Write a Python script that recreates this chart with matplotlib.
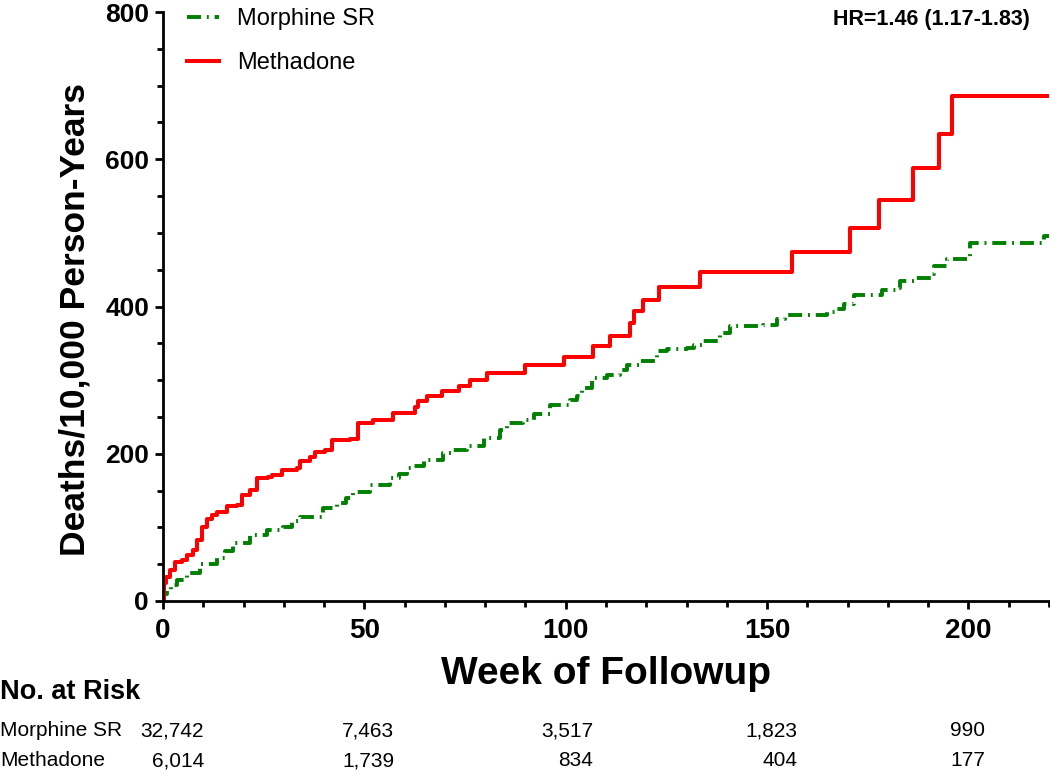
import matplotlib
matplotlib.use('Agg')
import matplotlib.pyplot as plt
from matplotlib.ticker import MultipleLocator
import matplotlib.transforms as mtransforms

plt.rcParams['font.family'] = ['Liberation Sans', 'DejaVu Sans']

# ---------------- data ----------------
methadone_weeks = [0, 0.3, 0.75, 1.7, 3.0, 4.6, 5.9, 7.5, 8.4, 9.6, 10.9, 12.1, 13.3,
                   15.8, 18.3, 19.6, 21.6, 23.3, 26.1, 27.0, 29.5, 33.2, 34.0, 36.5,
                   37.8, 40.2, 41.9, 46.5, 48.5, 52.2, 57.1, 62.6, 63.4, 65.5, 69.2,
                   73.4, 76.3, 80.4, 89.9, 99.5, 106.8, 111.1, 116.0, 116.9, 119.3,
                   123.1, 133.4, 156.2, 170.7, 177.7, 186.2, 192.6, 195.9, 220]
methadone_rate = [0, 25, 33, 42, 53, 56, 63, 69, 83, 101, 112, 117, 121.5,
                  129, 130, 144, 151, 167, 169, 171, 178, 181, 189.5, 195,
                  203, 204.5, 219, 220, 242, 246, 256, 264, 271, 278, 285,
                  292.5, 300.7, 309.8, 321, 331.5, 346, 360.5, 377, 393.6, 409.5,
                  426.8, 446.7, 474, 507, 545, 588, 634, 686, 686]

morphine_weeks = [0, 0.3, 0.9, 2.0, 3.4, 5.9, 9.2, 13.3, 15.5, 17.5, 21.6, 25.8, 29.9,
                  32.0, 34.0, 39.8, 43.2, 45.5, 47.3, 51.4, 56.4, 58.5, 60.5, 62.2,
                  64.7, 69.6, 72.0, 75.5, 79.6, 83.7, 85.4, 89.5, 92.0, 96.1, 101.1,
                  102.8, 104.0, 106.5, 110.2, 113.5, 115.2, 118.5, 122.7, 125.1,
                  130.1, 131.8, 134.2, 138.4, 140.9, 149.1, 152.5, 154.5, 164.9,
                  167.4, 169.1, 171.5, 178.5, 182.3, 183.1, 186.4, 190.6, 191.4,
                  194.7, 200.5, 218.7, 220]
morphine_rate = [0, 10, 15, 22, 28.6, 38.5, 50, 58, 68, 78.5, 90, 96.6, 101,
                 108, 114.7, 126, 133, 140, 148.7, 157.8, 167, 172, 180.5, 182.7,
                 191.8, 201, 205, 210, 221, 232.6, 241.8, 246, 254, 266.7, 273.5,
                 278, 289, 303, 307.5, 314, 321, 325.6, 339, 342.4,
                 343.8, 348.3, 352.8, 364, 373, 375.5, 383, 389, 392,
                 396, 403, 416, 423, 425.4, 434.4, 439, 443.5, 454.8,
                 465, 486, 496, 496]

series_labels = ['Morphine SR', 'Methadone']
x_ticks = [0, 50, 100, 150, 200]
y_ticks = [0, 200, 400, 600, 800]

risk_rows = ['Morphine SR', 'Methadone']
risk_morphine = ['32,742', '7,463', '3,517', '1,823', '990']
risk_methadone = ['6,014', '1,739', '834', '404', '177']
risk_col_x = [10.2, 57.4, 106.8, 157.5, 204.2]   # right edges of columns (week units)

hr_text = 'HR=1.46 (1.17-1.83)'

# ---------------- figure ----------------
W, H = 1050, 774
fig = plt.figure(figsize=(W / 100, H / 100), dpi=100)
ax = fig.add_axes([163 / W, 1 - 601 / H, (1049 - 163) / W, (601 - 12) / H])

green = '#008000'
red = '#ff0000'

l1, = ax.plot(morphine_weeks, morphine_rate, drawstyle='steps-post', color=green,
              lw=2.8, linestyle=(0, (3.6, 1.5, 0.5, 1.5)), label=series_labels[0])
l2, = ax.plot(methadone_weeks, methadone_rate, drawstyle='steps-post', color=red,
              lw=2.9, label=series_labels[1])

ax.set_xlim(0, 220)
ax.set_ylim(0, 800)

for s in ['top', 'right']:
    ax.spines[s].set_visible(False)
for s in ['left', 'bottom']:
    ax.spines[s].set_linewidth(2.0)

ax.set_xticks(x_ticks)
ax.set_xticklabels([str(v) for v in x_ticks], fontsize=20, fontweight='bold')
ax.set_yticks(y_ticks)
ax.set_yticklabels([str(v) for v in y_ticks], fontsize=19, fontweight='bold')
ax.xaxis.set_minor_locator(MultipleLocator(10))
ax.yaxis.set_minor_locator(MultipleLocator(50))
ax.tick_params(which='major', direction='out', length=6, width=2, color='black')
ax.tick_params(which='minor', direction='out', length=4, width=2, color='black')
ax.tick_params(axis='x', which='major', pad=6)
ax.tick_params(axis='y', which='major', pad=4)

# axis labels
fig.text(606 / W, 1 - 674 / H, 'Week of Followup', fontsize=28, fontweight='bold',
         ha='center', va='center')
fig.text(75 / W, 1 - 320 / H, 'Deaths/10,000 Person-Years', fontsize=25.5,
         fontweight='bold', rotation=90, ha='center', va='center')

# legend
ax.legend(handles=[l1, l2], loc='upper left', bbox_to_anchor=(187 / W, 1 - 8 / H),
          bbox_transform=fig.transFigure, frameon=False, fontsize=17,
          handlelength=1.36, handletextpad=0.75, labelspacing=0.95,
          borderpad=0, borderaxespad=0)

# HR annotation
fig.text(1030 / W, 1 - 20 / H, hr_text, fontsize=15.5, fontweight='bold',
         ha='right', va='center')

# number at risk table
fig.text(0, 1 - 692 / H, 'No. at Risk', fontsize=19.5, fontweight='bold',
         ha='left', va='center')
trans = mtransforms.blended_transform_factory(ax.transData, fig.transFigure)
row_y = [1 - 731 / H, 1 - 761 / H]
for lab, yy in zip(risk_rows, row_y):
    fig.text(0, yy, lab, fontsize=15, ha='left', va='center')
for vals, yy in zip([risk_morphine, risk_methadone], row_y):
    for xv, txt in zip(risk_col_x, vals):
        ax.text(xv, yy, txt, transform=trans, fontsize=15, ha='right', va='center',
                clip_on=False)

fig.savefig('out.png', dpi=100)
